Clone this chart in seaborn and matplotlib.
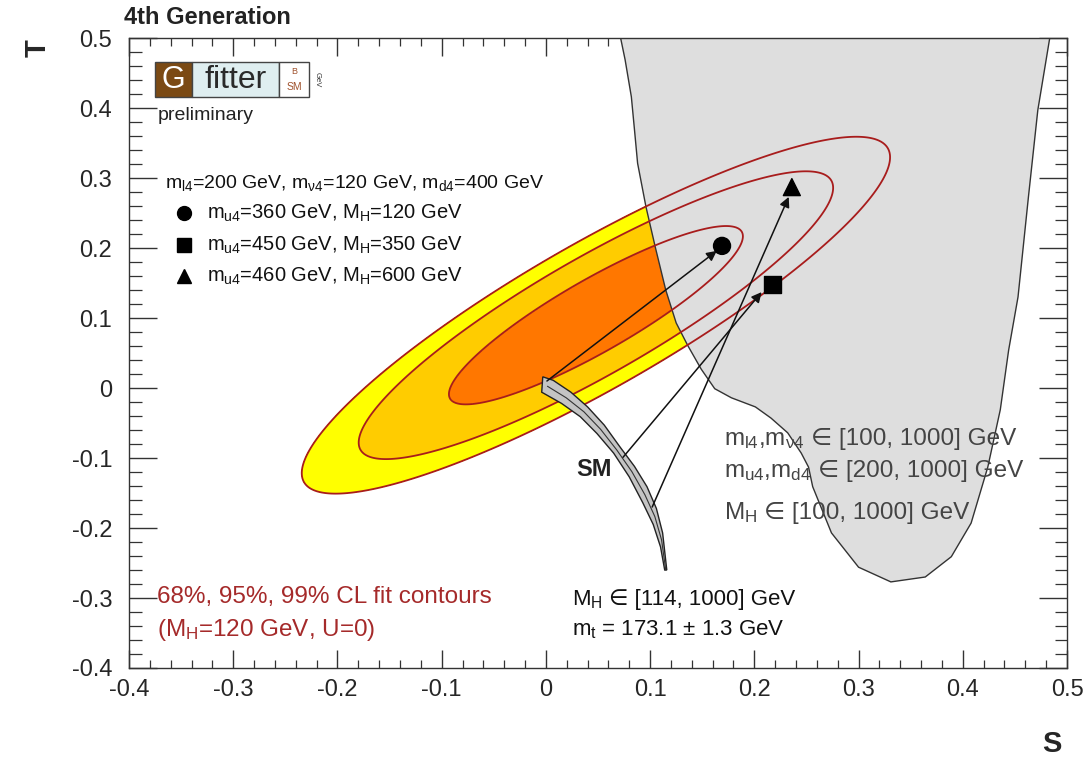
import numpy as np
import matplotlib
matplotlib.use("Agg")
import matplotlib.pyplot as plt
import seaborn as sns
import pandas as pd
from matplotlib.patches import Polygon, Rectangle
from matplotlib.ticker import MultipleLocator

# ---------------- data ----------------
# electroweak fit (S,T) result, M_H=120 GeV, U=0
fit_center = [0.048, 0.104]
fit_sigma = [0.093, 0.084]
fit_rho = 0.885
cl_levels = [2.30, 5.99, 9.21]          # 68%, 95%, 99% CL (delta chi2, 2 dof)
cl_colors = ["#ff7700", "#ffcc00", "#ffff00"]

# 4th generation allowed region (boundary)
region_S = [0.071, 0.076, 0.082, 0.085, 0.088, 0.096, 0.105, 0.115, 0.125, 0.136,
            0.149, 0.162, 0.178, 0.201, 0.216, 0.232, 0.245, 0.252, 0.256, 0.274,
            0.300, 0.331, 0.364, 0.389, 0.408, 0.424, 0.436, 0.444, 0.453, 0.463,
            0.472, 0.484]
region_T = [0.505, 0.469, 0.416, 0.369, 0.321, 0.259, 0.201, 0.140, 0.093, 0.061,
            0.027, -0.001, -0.014, -0.027, -0.043, -0.064, -0.093, -0.113, -0.141, -0.207,
            -0.256, -0.277, -0.270, -0.241, -0.193, -0.113, -0.031, 0.054, 0.130, 0.273,
            0.397, 0.505]

# SM prediction band (M_H in [114,1000] GeV, m_t = 173.1 +- 1.3 GeV)
sm_upper_S = [-0.003, 0.007, 0.024, 0.040, 0.056, 0.071, 0.085, 0.097, 0.106, 0.112, 0.116]
sm_upper_T = [0.016, 0.011, -0.006, -0.027, -0.053, -0.084, -0.112, -0.141, -0.172, -0.207, -0.260]
sm_lower_S = [0.114, 0.110, 0.103, 0.093, 0.080, 0.065, 0.049, 0.033, 0.015, -0.004]
sm_lower_T = [-0.260, -0.227, -0.195, -0.164, -0.127, -0.093, -0.065, -0.041, -0.022, -0.006]

# 4th generation example points
point_names = ["circle", "square", "triangle"]
point_S = [0.169, 0.217, 0.236]
point_T = [0.203, 0.148, 0.287]
arrow_start_S = [0.001, 0.074, 0.102]
arrow_start_T = [0.010, -0.099, -0.170]
arrow_end_S = [0.164, 0.207, 0.233]
arrow_end_T = [0.196, 0.137, 0.273]
legend_texts = ["$m_{u4}$=360 GeV, $M_{H}$=120 GeV",
                "$m_{u4}$=450 GeV, $M_{H}$=350 GeV",
                "$m_{u4}$=460 GeV, $M_{H}$=600 GeV"]

x_ticks = [-0.4, -0.3, -0.2, -0.1, 0.0, 0.1, 0.2, 0.3, 0.4, 0.5]
x_tick_labels = ["-0.4", "-0.3", "-0.2", "-0.1", "0", "0.1", "0.2", "0.3", "0.4", "0.5"]
y_ticks = [-0.4, -0.3, -0.2, -0.1, 0.0, 0.1, 0.2, 0.3, 0.4, 0.5]
y_tick_labels = ["-0.4", "-0.3", "-0.2", "-0.1", "0", "0.1", "0.2", "0.3", "0.4", "0.5"]

# ---------------- style ----------------
sns.set_theme(style="ticks")
plt.rcParams["font.family"] = ["Liberation Sans", "DejaVu Sans"]
plt.rcParams["mathtext.fontset"] = "custom"
plt.rcParams["mathtext.rm"] = "Liberation Sans"
plt.rcParams["mathtext.it"] = "Liberation Sans"
plt.rcParams["mathtext.bf"] = "Liberation Sans:bold"
plt.rcParams["axes.unicode_minus"] = False

W, H = 1089, 761
fig = plt.figure(figsize=(W / 100, H / 100), dpi=100)
ax = fig.add_axes([129 / W, 1 - 668 / H, 938 / W, 630 / H])
ax.set_xlim(-0.4, 0.5)
ax.set_ylim(-0.4, 0.5)
renderer = fig.canvas.get_renderer()


def fx(x):
    return x / W


def fy(y):
    return 1 - y / H


def text_parts(x_px, y_center_px, parts, fontsize, **kw):
    """Place text pieces one after the other on a shared baseline."""
    base = y_center_px + 0.36 * fontsize * 100 / 72
    x = x_px
    space = 0.278 * fontsize * 100 / 72
    for i, p in enumerate(parts):
        t = fig.text(fx(x), fy(base), p, fontsize=fontsize, ha="left",
                     va="baseline", **kw)
        x += t.get_window_extent(renderer).width + space


# fit contours
Sg = np.linspace(-0.4, 0.5, 500)
Tg = np.linspace(-0.4, 0.5, 500)
SS, TT = np.meshgrid(Sg, Tg)
dS = (SS - fit_center[0]) / fit_sigma[0]
dT = (TT - fit_center[1]) / fit_sigma[1]
chi2 = (dS ** 2 - 2 * fit_rho * dS * dT + dT ** 2) / (1 - fit_rho ** 2)
ax.contourf(SS, TT, chi2, levels=[0] + cl_levels, colors=cl_colors, zorder=1)

# allowed region
ax.add_patch(Polygon(np.column_stack([region_S, region_T]), closed=True,
                     facecolor="#dedede", edgecolor="#333333", lw=1.0, zorder=2))

ax.contour(SS, TT, chi2, levels=cl_levels, colors="#a81c1c", linewidths=1.3, zorder=3)

# SM band
band = np.column_stack([sm_upper_S + sm_lower_S, sm_upper_T + sm_lower_T])
ax.add_patch(Polygon(band, closed=True, facecolor="#c4c4c4", edgecolor="#222222",
                     lw=1.0, zorder=4))
mid_S = [(a + b) / 2 for a, b in zip(sm_upper_S[1:], sm_lower_S[::-1])]
mid_T = [(a + b) / 2 for a, b in zip(sm_upper_T[1:], sm_lower_T[::-1])]
ax.plot(mid_S, mid_T, color="#333333", lw=0.8, zorder=4)

# arrows
for s0, t0, s1, t1 in zip(arrow_start_S, arrow_start_T, arrow_end_S, arrow_end_T):
    ax.annotate("", xy=(s1, t1), xytext=(s0, t0),
                arrowprops=dict(arrowstyle="-|>", color="#111111", lw=1.1,
                                mutation_scale=15, shrinkA=0, shrinkB=0),
                zorder=6)

df = pd.DataFrame({"S": point_S, "T": point_T, "name": point_names})
sns.scatterplot(data=df, x="S", y="T", style="name",
                markers={"circle": "o", "square": "s", "triangle": "^"},
                color="black", s=150, edgecolor="black", legend=False, ax=ax, zorder=7)

# axes styling
ax.set_xlabel("")
ax.set_ylabel("")
ax.set_xticks(x_ticks)
ax.set_xticklabels(x_tick_labels)
ax.set_yticks(y_ticks)
ax.set_yticklabels(y_tick_labels)
ax.xaxis.set_minor_locator(MultipleLocator(0.02))
ax.yaxis.set_minor_locator(MultipleLocator(0.02))
ax.tick_params(axis="x", which="major", direction="in", length=13, width=1,
               top=True, bottom=True, labelsize=17, pad=8, color="#333333")
ax.tick_params(axis="x", which="minor", direction="in", length=6, width=0.9,
               top=True, bottom=True, color="#333333")
ax.tick_params(axis="y", which="major", direction="in", length=20, width=1,
               left=True, right=True, labelsize=17, pad=12, color="#333333")
ax.tick_params(axis="y", which="minor", direction="in", length=9, width=0.9,
               left=True, right=True, color="#333333")
for sp in ax.spines.values():
    sp.set_color("#333333")
    sp.set_linewidth(1.0)
    sp.set_zorder(10)
ax.set_facecolor("white")

# axis titles
fig.text(fx(38), fy(48), "T", rotation=90, fontsize=21, fontweight="bold",
         ha="center", va="center")
fig.text(fx(1052), fy(744), "S", fontsize=21, fontweight="bold", ha="center", va="center")
fig.text(fx(124), fy(18), "4th Generation", fontsize=17, fontweight="bold",
         ha="left", va="center", color="#222222")

# Gfitter logo
fig.add_artist(Rectangle((fx(155), fy(97)), fx(192) - fx(155), fy(62) - fy(97),
                         transform=fig.transFigure, facecolor="#7b4a14",
                         edgecolor="#444444", lw=1))
fig.add_artist(Rectangle((fx(192), fy(97)), fx(279) - fx(192), fy(62) - fy(97),
                         transform=fig.transFigure, facecolor="#dfeef0",
                         edgecolor="#444444", lw=1))
fig.add_artist(Rectangle((fx(279), fy(97)), fx(309) - fx(279), fy(62) - fy(97),
                         transform=fig.transFigure, facecolor="white",
                         edgecolor="#444444", lw=1))
fig.text(fx(173.5), fy(80), "G", color="white", fontsize=22, ha="center", va="center")
fig.text(fx(236), fy(80), "fitter", color="#2a2a2a", fontsize=23, ha="center", va="center")
fig.text(fx(294), fy(72), "B", color="#a0522d", fontsize=6.5, ha="center", va="center")
fig.text(fx(294), fy(87), "SM", color="#a0522d", fontsize=7.5, ha="center", va="center")
fig.text(fx(317), fy(80), "GeV", color="#333333", fontsize=5.5, rotation=270,
         ha="center", va="center")
fig.text(fx(158), fy(115), "preliminary", fontsize=14, ha="left", va="center",
         color="#222222")

# legend
fig.text(fx(165), fy(183), "$m_{l4}$=200 GeV, $m_{\\nu4}$=120 GeV, $m_{d4}$=400 GeV",
         fontsize=14, ha="left", va="center", color="#111111")
leg_y = [213, 245, 276]
leg_markers = ["o", "s", "^"]
for yy, mk, txt in zip(leg_y, leg_markers, legend_texts):
    fig.add_artist(plt.Line2D([fx(184)], [fy(yy)], marker=mk, color="black",
                              markersize=10, transform=fig.transFigure, linestyle=""))
    fig.text(fx(207), fy(yy), txt, fontsize=14.5, ha="left", va="center", color="#111111")

# parameter ranges
text_parts(724, 436, ["$m_{l4}$,$m_{\\nu4}$", "∈ [100, 1000] GeV"], 17.5, color="#444444")
text_parts(724, 468, ["$m_{u4}$,$m_{d4}$", "∈ [200, 1000] GeV"], 17.5, color="#444444")
text_parts(724, 510, ["$M_{H}$", "∈ [100, 1000] GeV"], 17.5, color="#444444")

fig.text(fx(576), fy(470), "SM", fontsize=17, fontweight="bold", ha="left", va="center",
         color="#222222")

fig.text(fx(157), fy(597), "68%, 95%, 99% CL fit contours", fontsize=17.5,
         color="#a52a2a", ha="left", va="center")
fig.text(fx(157), fy(630), "($M_{H}$=120 GeV, U=0)", fontsize=17.5,
         color="#a52a2a", ha="left", va="center")
text_parts(572, 597, ["$M_{H}$", "∈ [114, 1000] GeV"], 16, color="#111111")
fig.text(fx(572), fy(630), "$m_{t}$ = 173.1 ± 1.3 GeV", fontsize=16,
         ha="left", va="center", color="#111111")

fig.savefig("out.png", dpi=100, facecolor="white")
